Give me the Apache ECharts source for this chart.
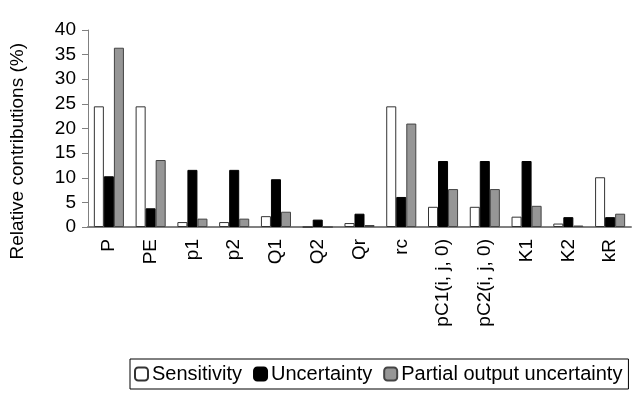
<!DOCTYPE html>
<html><head><meta charset="utf-8">
<script src="https://cdn.jsdelivr.net/npm/echarts@6/dist/echarts.min.js"></script>
<style>html,body{margin:0;padding:0;background:#fff}#c{width:632px;height:397px}</style>
</head><body><div id="c"></div>
<script>
const categories = ['P','PE','p1','p2','Q1','Q2','Qr','rc','pC1(i, j, 0)','pC2(i, j, 0)','K1','K2','kR'];
const sensitivity = [24.5, 24.5, 1.0, 1.0, 2.2, 0.0, 0.8, 24.5, 4.1, 4.1, 2.1, 0.7, 10.1];
const uncertainty = [10.3, 3.8, 11.6, 11.6, 9.7, 1.5, 2.7, 6.1, 13.4, 13.4, 13.4, 2.0, 2.0];
const partial = [36.4, 13.6, 1.7, 1.7, 3.1, 0.0, 0.4, 21.0, 7.7, 7.7, 4.3, 0.3, 2.7];
const yTicks = [0,5,10,15,20,25,30,35,40];
const yTitle = 'Relative contributions (%)';

const font = 'Liberation Sans, Arial, sans-serif';
const chart = echarts.init(document.getElementById('c'));
chart.setOption({
  animation: false,
  textStyle: {fontFamily: font},
  grid: {left: 88, top: 30, width: 543, height: 197, containLabel: false},
  legend: {
    left: 130, top: 359,
    data: ['Sensitivity','Uncertainty','Partial output uncertainty'],
    borderColor: '#000', borderWidth: 1, padding: [5, 6, 5, 4],
    itemWidth: 13, itemHeight: 13, itemGap: 11,
    textStyle: {fontSize: 20, color: '#000', fontFamily: font, padding: [0,0,0,-1]}
  },
  graphic: [{
    type: 'text', left: 8, top: 43,
    style: {text: yTitle, fontSize: 19, fill: '#000', fontFamily: font},
    rotation: Math.PI / 2
  }],
  xAxis: {
    type: 'category', data: categories,
    axisLine: {lineStyle: {color: '#808080', width: 2}},
    axisTick: {show: false},
    axisLabel: {rotate: 90, fontSize: 19, color: '#000', margin: 12, interval: 0, fontFamily: font}
  },
  yAxis: {
    type: 'value', min: yTicks[0], max: yTicks[yTicks.length-1], interval: 5,
    axisLine: {show: true, lineStyle: {color: '#808080', width: 1}},
    axisTick: {show: true, length: 6, lineStyle: {color: '#808080'}},
    splitLine: {show: false},
    axisLabel: {fontSize: 19, color: '#000', margin: 12, fontFamily: font}
  },
  series: [
    {name: 'Sensitivity', type: 'bar', data: sensitivity, barGap: '0%', barCategoryGap: '28%',
     itemStyle: {color: '#fff', borderColor: '#333', borderWidth: 1}},
    {name: 'Uncertainty', type: 'bar', data: uncertainty,
     itemStyle: {color: '#000', borderColor: '#000', borderWidth: 1}},
    {name: 'Partial output uncertainty', type: 'bar', data: partial,
     itemStyle: {color: '#969696', borderColor: '#444', borderWidth: 1}}
  ]
});
</script></body></html>
